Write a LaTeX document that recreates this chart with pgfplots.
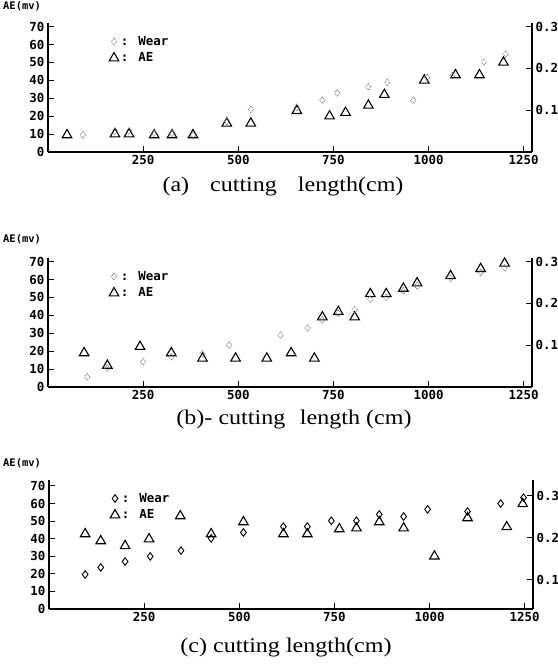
\documentclass[border=0pt]{standalone}
\usepackage{fontspec}
\setmainfont{Liberation Serif}
\newfontfamily\monob{DejaVu Sans Mono}
\newfontfamily\capfont{Liberation Serif}[FakeStretch=1.15]
\usepackage{pgfplots}
\pgfplotsset{compat=1.18}

\pgfplotsset{
  panel/.style={
    scale only axis, width=484bp, height=129bp,
    xmin=0, xmax=1272,
    tick align=inside, major tick length=6bp,
    /pgf/number format/assume math mode=true,
    /pgf/number format/1000 sep={},
    tick label style={font=\monob\bfseries\fontsize{12.5}{14}\selectfont},
    axis line style={line width=1.3bp, -},
    tick style={line width=1bp, black},
    scaled y ticks=false,
  },
  left/.style={panel,
    axis x line*=bottom, axis y line*=left,
    xtick={250,500,750,1000,1250},
    ytick={0,10,...,70}, ymin=0,
    legend style={draw=none, fill=none, at={(0.12,0.93)}, anchor=north west,
      font=\monob\bfseries\fontsize{12.5}{14}\selectfont, row sep=2bp},
    legend cell align=left,
  },
  right/.style={panel,
    axis y line*=right, axis x line=none,
    ytick={0.1,0.2,0.3},
    yticklabel style={/pgf/number format/fixed, /pgf/number format/precision=1,
      /pgf/number format/fixed zerofill},
  },
  ae/.style={only marks, mark=triangle, mark size=5.5bp,
    mark options={line width=1.1bp, draw=black, fill=none}},
  wearfaint/.style={only marks, mark=diamond, mark size=3.5bp,
    mark options={densely dotted, line width=0.8bp, draw=black!55, fill=none}},
  wear/.style={only marks, mark=diamond, mark size=3.8bp,
    mark options={line width=0.9bp, draw=black, fill=none}},
}

\begin{document}
\begin{tikzpicture}
\useasboundingbox (0,0) rectangle (558bp,665bp);

% ---------- (a) ----------
\begin{axis}[left, at={(48bp,513bp)}, ymax=72]
  \addlegendimage{wearfaint}
  \addlegendentry{: Wear}
  \addplot[ae] coordinates {(50,9.5) (176,10) (213,10) (279,9.5) (326,9.5) (381,9.5)
    (470,16) (533,16) (654,23) (740,20) (782,22) (842,26) (884,32) (989,40)
    (1071,43) (1134,43) (1197,50)};
  \addlegendentry{: AE}
\end{axis}
\begin{axis}[right, at={(48bp,513bp)}, ymin=0, ymax=0.3086]
  \addplot[wearfaint] coordinates {(92,0.041) (176,0.05) (213,0.05) (279,0.045)
    (326,0.045) (381,0.04) (470,0.073) (533,0.102) (654,0.107) (721,0.124)
    (760,0.141) (842,0.156) (892,0.166) (960,0.124) (997,0.178) (1063,0.183)
    (1145,0.215) (1203,0.234)};
\end{axis}

% ---------- (b) ----------
\begin{axis}[left, at={(48bp,278bp)}, ymax=72]
  \addlegendimage{wearfaint}
  \addlegendentry{: Wear}
  \addplot[ae] coordinates {(95,19) (156,12) (242,22.5) (324,19) (406,16) (493,16)
    (575,16) (639,19) (700,16) (721,39) (763,42) (806,39) (847,52) (889,52)
    (934,55) (970,58) (1058,62) (1137,66) (1200,69)};
  \addlegendentry{: AE}
\end{axis}
\begin{axis}[right, at={(48bp,278bp)}, ymin=0, ymax=0.3086]
  \addplot[wearfaint] coordinates {(103,0.024) (156,0.045) (250,0.06) (324,0.072)
    (406,0.079) (476,0.10) (611,0.124) (682,0.141) (721,0.16) (763,0.176)
    (806,0.185) (847,0.21) (889,0.214) (934,0.23) (970,0.242) (1058,0.26)
    (1137,0.274) (1200,0.285)};
\end{axis}

% ---------- (c) ----------
\begin{axis}[left, at={(49bp,56bp)}, ymax=73.4]
  \addlegendimage{wear}
  \addlegendentry{: Wear}
  \addplot[ae] coordinates {(95,42.7) (136,38.7) (200,35.9) (263,39.8) (345,52.9)
    (426,42.7) (511,49.5) (616,42.7) (679,42.7) (763,45.5) (808,46) (868,49.5)
    (932,46) (1013,30) (1100,51.8) (1203,46.7) (1245,59.8)};
  \addlegendentry{: AE}
\end{axis}
\begin{axis}[right, at={(49bp,56bp)}, ymin=0.03, ymax=0.337]
  \addplot[wear] coordinates {(95,0.112) (136,0.129) (200,0.143) (266,0.155)
    (347,0.169) (426,0.198) (511,0.212) (616,0.226) (679,0.226) (742,0.240)
    (808,0.240) (868,0.255) (932,0.25) (995,0.267) (1100,0.262) (1187,0.281)
    (1247,0.295)};
\end{axis}

% labels and captions
\begin{scope}[every node/.style={font=\monob\bfseries\fontsize{10.5}{12}\selectfont, anchor=west, inner sep=0pt}]
  \node at (3bp,659bp) {AE(mv)};
  \node at (3bp,426bp) {AE(mv)};
  \node at (3bp,202bp) {AE(mv)};
\end{scope}
\begin{scope}[every node/.style={font=\capfont\fontsize{21}{24}\selectfont, inner sep=0pt}]
  \node at (283bp,478bp) {(a)\hspace{1em}cutting\hspace{1em}length(cm)};
  \node at (294bp,245bp) {(b)- cutting\hspace{0.7em}length (cm)};
  \node at (286bp,18bp) {(c) cutting length(cm)};
\end{scope}
\end{tikzpicture}
\end{document}
